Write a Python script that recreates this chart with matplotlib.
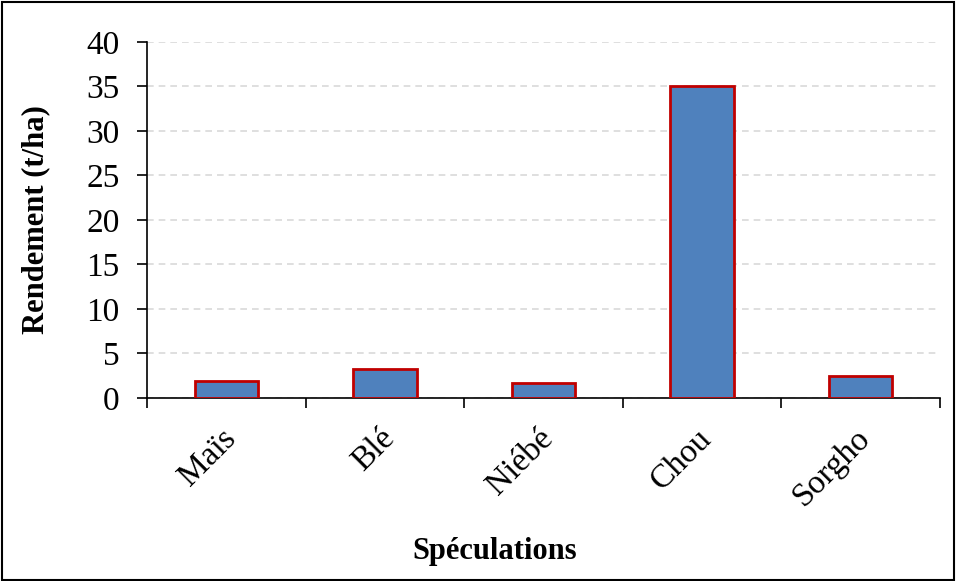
import matplotlib.pyplot as plt
import matplotlib.transforms as mtransforms
from matplotlib.patches import Rectangle

especes = ['Maïs', 'Blé', 'Niébé', 'Chou', 'Sorgho']
rendement = [1.9, 3.2, 1.7, 35.0, 2.45]
graduations = [0, 5, 10, 15, 20, 25, 30, 35, 40]

plt.rcParams['font.family'] = ['Liberation Serif', 'DejaVu Serif']

fig = plt.figure(figsize=(9.56, 5.81), dpi=100)
ax = fig.add_axes([0.154, 0.315, 0.829, 0.613])

x = range(len(especes))
ax.bar(x, rendement, width=0.4, color='#4F81BD', edgecolor='#C00000', linewidth=2, zorder=3)

ax.set_xlim(-0.5, len(especes) - 0.5)
ax.set_ylim(0, 40)
ax.set_yticks(graduations)
ax.set_yticklabels([str(g) for g in graduations], fontsize=24)
ax.grid(axis='y', color='#D9D9D9', linestyle=(0, (4, 3)), linewidth=1.2, zorder=0)

# ticks entre les categories, etiquettes au centre
ax.set_xticks([i - 0.5 for i in range(len(especes) + 1)])
ax.set_xticklabels([])
ax.set_xticks(list(x), minor=True)
ax.set_xticklabels(especes, minor=True, rotation=45, ha='right', va='top',
                   rotation_mode='anchor', fontsize=24)
ax.tick_params(axis='x', which='minor', length=0, pad=18)
ax.tick_params(axis='x', which='major', length=7, width=1.2, direction='out')
ax.tick_params(axis='y', length=7, width=1.2, direction='out', pad=13)

decalage = mtransforms.ScaledTranslation(-6 / 100, 0, fig.dpi_scale_trans)
for lab in ax.get_xticklabels(minor=True):
    lab.set_transform(lab.get_transform() + decalage)

for s in ['top', 'right']:
    ax.spines[s].set_visible(False)
for s in ['left', 'bottom']:
    ax.spines[s].set_linewidth(1.2)

ax.set_ylabel('Rendement (t/ha)', fontsize=22, fontweight='bold', labelpad=26)
fig.text(0.517, 0.05, 'Spéculations', ha='center', va='center', fontsize=22, fontweight='bold')

fig.add_artist(Rectangle((0.002, 0.002), 0.996, 0.994, transform=fig.transFigure,
                         fill=False, edgecolor='black', linewidth=1.5))

fig.savefig('out.png', dpi=100)
